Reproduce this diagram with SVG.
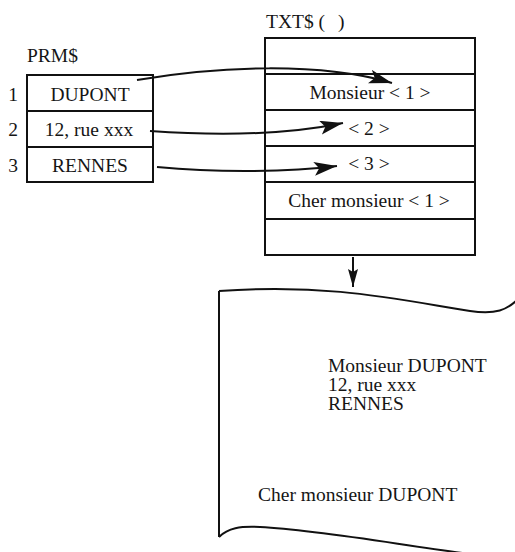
<svg xmlns="http://www.w3.org/2000/svg" width="515" height="552" viewBox="0 0 515 552">
<style>
text{font-family:"Liberation Serif","Times New Roman",serif;font-size:19.5px;fill:#151515}
.c{text-anchor:middle}
.box{fill:#fff;stroke:#111;stroke-width:2}
.sep{stroke:#111;stroke-width:2.2}
.con{fill:none;stroke:#111;stroke-width:2}
</style>
<defs>
<marker id="ah" markerUnits="userSpaceOnUse" markerWidth="26" markerHeight="16" refX="23" refY="7" orient="auto">
<path d="M0,0 L23,7 L0,14 L5,7 z" fill="#111"/>
</marker>
<marker id="ahs" markerUnits="userSpaceOnUse" markerWidth="20" markerHeight="12" refX="18" refY="5" orient="auto">
<path d="M0,0 L18,5 L0,10 L3,5 z" fill="#111"/>
</marker>
</defs>
<rect width="515" height="552" fill="#fff"/>

<g id="prm">
<text x="27" y="62">PRM$</text>
<rect class="box" x="27" y="75" width="126" height="107"/>
<line class="sep" x1="27" y1="111" x2="153" y2="111"/>
<line class="sep" x1="27" y1="147" x2="153" y2="147"/>
<text class="c" x="13" y="101">1</text>
<text class="c" x="13" y="136">2</text>
<text class="c" x="13" y="172">3</text>
<text class="c" x="90" y="101">DUPONT</text>
<text class="c" x="89" y="136">12, rue xxx</text>
<text class="c" x="90" y="172">RENNES</text>
</g>

<g id="txt">
<text x="266" y="28">TXT$ (</text>
<text x="338" y="28">)</text>
<rect class="box" x="265" y="38" width="210" height="217"/>
<line class="sep" x1="265" y1="74" x2="475" y2="74"/>
<line class="sep" x1="265" y1="110" x2="475" y2="110"/>
<line class="sep" x1="265" y1="146" x2="475" y2="146"/>
<line class="sep" x1="265" y1="182" x2="475" y2="182"/>
<line class="sep" x1="265" y1="219" x2="475" y2="219"/>
<text class="c" x="370" y="99">Monsieur &lt; 1 &gt;</text>
<text class="c" x="369" y="135">&lt; 2 &gt;</text>
<text class="c" x="369" y="170">&lt; 3 &gt;</text>
<text class="c" x="369" y="207">Cher monsieur &lt; 1 &gt;</text>
</g>

<g id="paper">
<path class="con" d="M219,291 C330,283 400,300 470,311 C497,315 507,309 516,301"/>
<line class="con" x1="219" y1="291" x2="219" y2="537"/>
<path class="con" d="M219,537 C228,528 240,526 260,527 C320,530 400,545 470,554"/>
<text x="328" y="372">Monsieur DUPONT</text>
<text x="328" y="391">12, rue xxx</text>
<text x="328" y="410">RENNES</text>
<text x="258" y="501">Cher monsieur DUPONT</text>
</g>

<g id="connectors">
<path class="con" d="M137,80 C220,66 320,62 392,83" marker-end="url(#ah)"/>
<path class="con" d="M150,131 C220,136 290,134 343,123" marker-end="url(#ah)"/>
<path class="con" d="M157,167 C220,173 290,172 337,166" marker-end="url(#ah)"/>
<line class="con" x1="353" y1="257" x2="353" y2="287" marker-end="url(#ahs)"/>
</g>
</svg>
